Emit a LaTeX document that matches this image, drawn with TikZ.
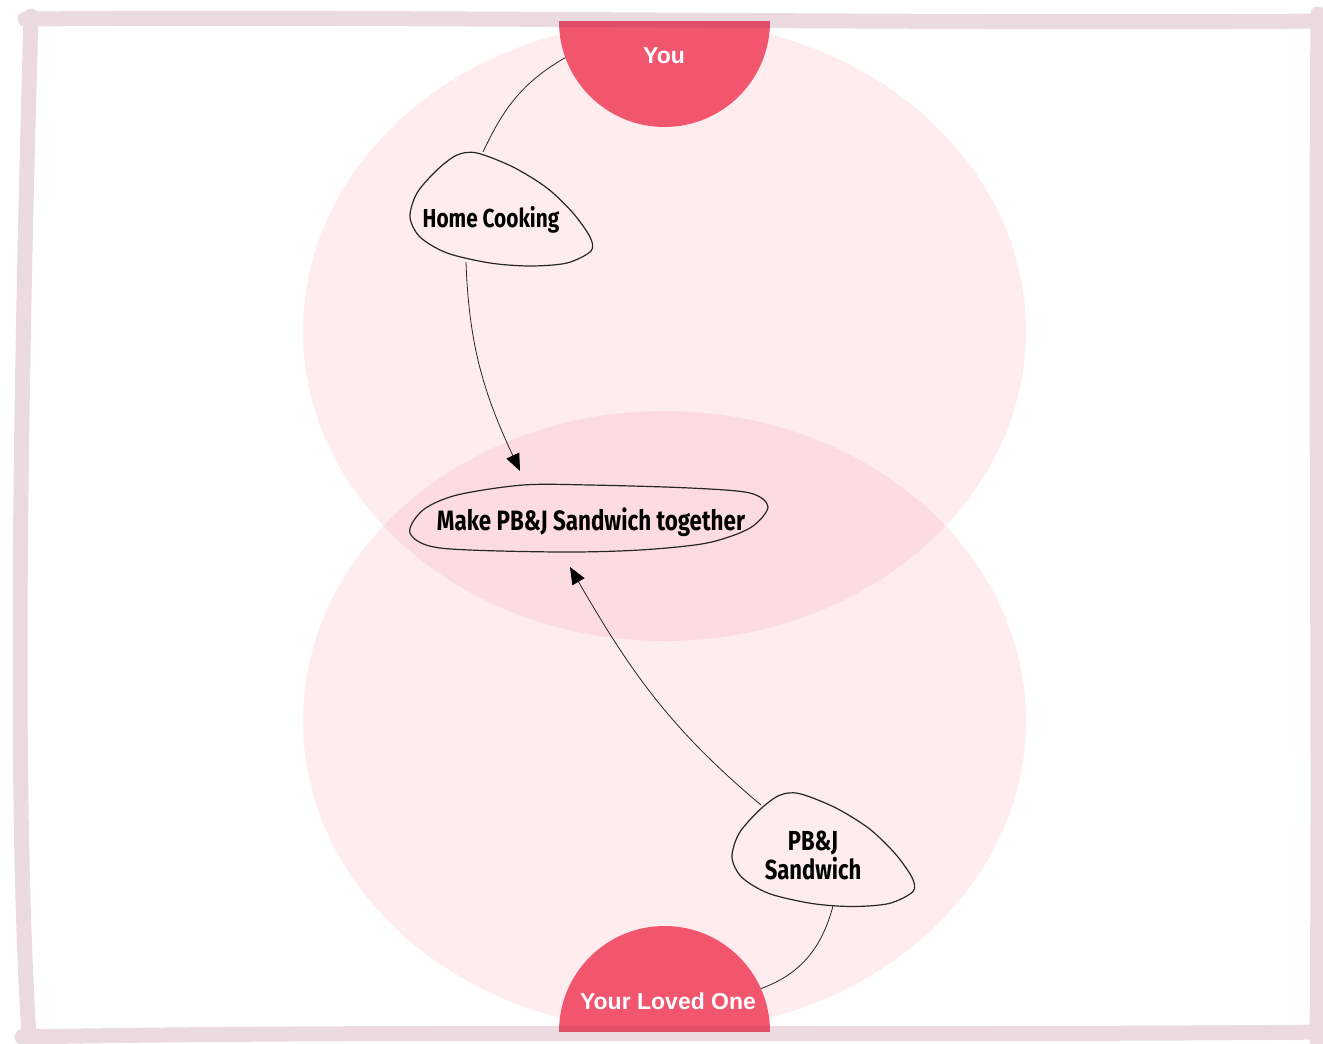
\documentclass[tikz,border=0pt]{standalone}
\usepackage{fontspec}
\usepackage{tikz}
\usetikzlibrary{arrows.meta,positioning,calc}
\newfontfamily\handfont{Fira Sans}[FakeStretch=0.8]
\newfontfamily\discfont{Liberation Sans}
\definecolor{lvred}{HTML}{F2566F}
\definecolor{lvframe}{HTML}{8B2846}
\tikzset{
  lvzone/.style={fill=lvred, fill opacity=0.11, draw=none},
  lvdisc/.style={circle, fill=lvred, draw=none, minimum size=211pt,
    inner sep=0pt, outer sep=0pt},
  lvdisctext/.style={font=\discfont\bfseries\fontsize{23}{27}\selectfont,
    text=white, inner sep=0pt},
  lvidea/.style={font=\handfont\bfseries\fontsize{26}{29}\selectfont,
    align=center, text=black, inner sep=0pt},
  lvblob/.style={draw=black!85, line width=1.2pt},
  lvlink/.style={draw=black!85, line width=0.8pt},
  lvarrow/.style={lvlink, -{Triangle[length=17pt,width=14pt,color=black]}},
  lvborder/.style={draw=lvframe, draw opacity=0.17, line width=15pt,
    line cap=round, line join=round},
  pick/.pic={
    \draw[lvblob] plot[smooth cycle] coordinates {(-14,65) (22,51) (56,30)
      (82,5) (99,-19) (100,-33) (76,-45) (39,-48) (-1,-45) (-44,-35)
      (-71,-19) (-81,1) (-74,25) (-54,48) (-34,63)};
  }
}

\begin{document}
\begin{tikzpicture}[x=1pt, y=1pt]
  \useasboundingbox (0,0) rectangle (1323,-1044);
  % two overlapping zones and the two people
  \begin{scope}
    \clip (0,-21.5) rectangle (1323,-1031.5);
    \fill[lvzone] (664.5,-331) ellipse [x radius=361.5, y radius=310];
    \fill[lvzone] (664.5,-721) ellipse [x radius=361.5, y radius=310];
    \node[lvdisc] (you) at (664.5,-21.5) {};
    \node[lvdisc] (loved) at (664.5,-1031.5) {};
  \end{scope}
  \node[lvdisctext, anchor=base] (youlbl) at (664,-63) {You};
  \node[lvdisctext, anchor=base] (lovedlbl) at (668,-1009) {Your Loved One};
  % hand drawn frame
  \draw[lvborder] (25,-19) .. controls (400,-16) and (900,-24) .. (1330,-21)
    (31,-16) .. controls (20,-400) and (14,-800) .. (29,-1036)
    (22,-1037) .. controls (400,-1030) and (900,-1036) .. (1330,-1032)
    (1318,-14) .. controls (1315,-400) and (1320,-700) .. (1317,-1040);
  % ideas
  \node[lvidea, anchor=base] (hc) at (491,-227) {Home Cooking};
  \pic at ([yshift=9pt]hc.base) {pick};
  \node[lvidea, anchor=base, font=\handfont\bfseries\fontsize{28}{30}\selectfont]
    (mk) at (591,-530) {Make PB\&J Sandwich together};
  \draw[lvblob] plot[smooth cycle] coordinates {(410,-533) (423,-510)
      (457,-495) (523,-485) (590,-485) (690,-488) (750,-493) (768,-507)
      (750,-528) (707,-543) (640,-550) (557,-552) (440,-548)};
  \node[lvidea, font=\handfont\bfseries\fontsize{27.5}{29}\selectfont]
    (ps) at (813,-855) {PB\&J\\Sandwich};
  \pic at ([yshift=-3.5pt]ps.center) {pick};
  % connectors
  \draw[lvlink] (you.200) to[out=210, in=65] ([shift={(-8,75)}]hc.base);
  \draw[lvarrow] ([shift={(-25,-35)}]hc.base) to[out=-88, in=115]
    ([shift={(-71,59)}]mk.base);
  \draw[lvarrow] ([shift={(-52,50)}]ps.center) to[out=140, in=-60]
    ([shift={(-21,-37)}]mk.base);
  \draw[lvlink] (loved.24) to[out=20, in=-105] ([shift={(20,-51)}]ps.center);
\end{tikzpicture}
\end{document}
